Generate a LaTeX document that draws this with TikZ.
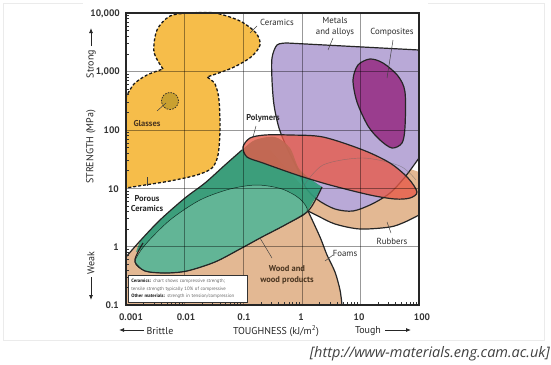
\documentclass[tikz,border=0pt]{standalone}
\usepackage{fontspec}
\setmainfont{PT Sans}
\newfontfamily\citefont{Open Sans}
\usetikzlibrary{arrows.meta}
\definecolor{cer}{HTML}{F6BD4A}
\definecolor{glass}{HTML}{C9A030}
\definecolor{lav}{HTML}{B9A9D7}
\definecolor{comp}{HTML}{9A3D8E}
\definecolor{grnD}{HTML}{2E9C79}
\definecolor{grnL}{HTML}{62B596}
\definecolor{poly}{HTML}{E85A48}
\definecolor{tanc}{HTML}{E3B893}
\definecolor{ink}{HTML}{2B2B2B}
\definecolor{brownink}{HTML}{4A3520}
\begin{document}
\begin{tikzpicture}[x=1pt,y=-1pt,
  outl/.style={draw=black!85,line width=1.2pt},
  gridl/.style={draw=black,opacity=0.4,line width=0.6pt},
  tickl/.style={draw=black!80,line width=0.5pt},
  leader/.style={draw=black!75,line width=0.5pt},
  lbl/.style={font=\fontsize{8.8}{10.5}\selectfont,text=ink,inner sep=0pt,align=center},
  blbl/.style={font=\bfseries\fontsize{8.5}{10.5}\selectfont,text=brownink,inner sep=0pt,align=center},
  ytl/.style={font=\bfseries\fontsize{9.5}{10}\selectfont,text=black!80,inner sep=0pt,anchor=east},
  xtl/.style={font=\bfseries\fontsize{9.5}{10}\selectfont,text=black!80,inner sep=0pt},
  axt/.style={font=\fontsize{10}{11}\selectfont,text=black!85,inner sep=0pt},
  arr/.style={draw=black!85,line width=0.8pt,-{Latex[length=5pt,width=4pt]}}]
\useasboundingbox (0,0) rectangle (551,364);
% faint outer frame
\draw[black!8,line width=0.6pt] (3,3) -- (3,340) -- (544,340) -- (544,3) -- (428,3);
\draw[black!8,line width=0.6pt] (3,3) -- (83,3);
% tan region (wood, foams, rubbers)
\fill[tanc] plot[smooth] coordinates {(126,257) (140,241) (160,220) (185,198) (205,183) (225,165) (242,150)}
  -- (270,150) -- (303,187)
  -- plot[smooth] coordinates {(303,187) (323,165) (363,158) (400,166) (419,172)}
  -- (419,215)
  -- plot[smooth] coordinates {(419,215) (405,222) (390,227) (360,229) (335,224) (318,216) (308,211)}
  -- plot[smooth] coordinates {(308,211) (320,237) (327,255) (335,272) (340,290) (342,305)}
  -- (126,305) -- cycle;
% metals
\filldraw[fill=lav,outl] plot[smooth] coordinates {(419,158) (405,177) (390,193) (372,204) (353,211) (335,209) (318,200) (306,188) (297,168) (287,148) (279,128) (274,105) (272,80) (272,58) (277,45) (287,43)} -- (419,50) -- cycle;
% composites
\filldraw[fill=comp,outl] plot[smooth cycle] coordinates {(370,59) (383,63) (398,76) (405,92) (405,127) (402,143) (392,148) (380,140) (368,126) (357,102) (353,80) (358,65)};
% green upper
\fill[grnD,opacity=0.92] plot[smooth] coordinates {(140,241) (160,220) (185,198) (205,183) (225,165) (242,150) (255,140) (275,137) (290,148) (300,170) (322,187)} -- (307,212) -- (250,222) -- (180,235) -- (136,252) -- cycle;
% green ellipse
\filldraw[fill=grnL,draw=black!70!grnD,line width=0.5pt] plot[smooth cycle] coordinates {(135,262) (145,271) (165,273) (187,271) (215,262) (240,249) (262,237) (285,225) (307,212) (300,199) (282,189) (257,185) (230,189) (200,200) (170,220) (145,245)};
% thick outlines
\draw[outl] plot[smooth] coordinates {(126,257) (140,241) (160,220) (185,198) (205,183) (225,165) (242,150)};
\draw[outl] plot[smooth] coordinates {(322,187) (316,199) (307,212) (285,225) (262,237) (240,249) (215,262) (187,271) (165,273) (145,271) (135,262) (138,252) (143,243)};
\draw[outl] plot[smooth] coordinates {(419,215) (405,222) (390,227) (360,229) (335,224) (318,216) (308,211)};
\draw[outl] plot[smooth] coordinates {(308,211) (320,237) (327,255) (335,272) (340,290) (342,305)};
% polymers
\fill[poly,opacity=0.78] plot[smooth cycle] coordinates {(243,147) (250,138) (265,135) (290,135) (323,137) (363,150) (390,163) (408,178) (417,192) (410,198) (395,199) (370,195) (330,185) (297,175) (263,163) (247,157)};
\draw[black!60,line width=0.4pt,opacity=0.6] plot[smooth] coordinates {(303,187) (323,165) (363,158) (400,166) (416,180)};
\draw[outl] plot[smooth cycle] coordinates {(243,147) (250,138) (265,135) (290,135) (323,137) (363,150) (390,163) (408,178) (417,192) (410,198) (395,199) (370,195) (330,185) (297,175) (263,163) (247,157)};
% ceramics
\def\cerpath{plot[smooth] coordinates {(163,69) (154,52) (157,30) (170,16) (190,13) (215,13) (240,21) (256,33) (260,45) (251,57) (232,68) (207,77)} -- plot[smooth] coordinates {(207,77) (215,84) (219,100) (220,130) (218,155) (212,168) (197,175) (170,181) (145,185) (126,188)} -- (126,97) -- plot[smooth] coordinates {(126,97) (134,84) (147,75) (163,69)} -- cycle}
\fill[cer] \cerpath;
\fill[glass] (170,101) circle[radius=8.5pt];
% grid
\foreach \gx in {184.6,243.2,301.8,360.4} \draw[gridl] (\gx,13) -- (\gx,305);
\foreach \gy in {71.4,129.8,188.2,246.6} \draw[gridl] (126,\gy) -- (419,\gy);
% ceramics dashed outlines
\draw[black!90,line width=1.3pt,dash pattern=on 3pt off 2pt] \cerpath;
\draw[black!85,line width=0.7pt,dash pattern=on 1.6pt off 1.2pt] (170,101) circle[radius=8.5pt];
% ticks
\foreach \d in {0,...,4}{
  \foreach \k in {2,...,9}{
    \pgfmathsetmacro\tx{126+58.6*(\d+ln(\k)/ln(10))}
    \pgfmathsetmacro\ty{305-58.4*(\d+ln(\k)/ln(10))}
    \draw[tickl] (\tx,305) -- (\tx,302);
    \draw[tickl] (126,\ty) -- (129,\ty);
  }
}
% frame
\draw[black!85,line width=1.1pt] (126,13) rectangle (419,305);
% note box
\node[draw=black!80,line width=0.7pt,fill=white,anchor=north west,minimum width=119pt,minimum height=27pt,inner sep=2.5pt,text width=113pt,align=left,font=\fontsize{4.8}{7.2}\selectfont,text=black!60] (note) at (128,275)
 {{\bfseries\color{black!90}Ceramics:} chart shows compressive strength;\\tensile strength typically 10\% of compressive\\{\bfseries\color{black!90}Other materials:} strength in tension/compression};
% axis tick labels
\node[ytl] (y4) at (120,14) {10,000};
\node[ytl] (y3) at (120,72) {1,000};
\node[ytl] (y2) at (120,130) {100};
\node[ytl] (y1) at (119,189) {10};
\node[ytl] (y0) at (119,247) {1};
\node[ytl] (ym) at (119,305) {0.1};
\node[xtl] (x0) at (131,317) {0.001};
\node[xtl] (x1) at (186,317) {0.01};
\node[xtl] (x2) at (244,317) {0.1};
\node[xtl] (x3) at (301,317) {1};
\node[xtl] (x4) at (359,317) {10};
\node[xtl] (x5) at (422,317) {100};
% axis titles
\node[axt] (xt) at (276,331) {TOUGHNESS (kJ/m\textsuperscript{2})};
\node[axt,rotate=90] (yt) at (91,147) {STRENGTH (MPa)};
\node[axt,rotate=90] (strong) at (91,64) {Strong};
\node[axt,rotate=90] (weak) at (91,263) {Weak};
\node[axt] (brittle) at (160,331) {Brittle};
\node[axt] (tough) at (368,331) {Tough};
\coordinate (sa1) at (91,46); \coordinate (sa2) at (91,28);
\coordinate (wa1) at (91,277); \coordinate (wa2) at (91,300);
\coordinate (ba1) at (144,330); \coordinate (ba2) at (119,330);
\coordinate (ta1) at (385,330); \coordinate (ta2) at (411,330);
\draw[arr] (sa1) -- (sa2);
\draw[arr] (wa1) -- (wa2);
\draw[arr] (ba1) -- (ba2);
\draw[arr] (ta1) -- (ta2);
% material labels
\node[lbl] (lcer) at (277,22) {Ceramics};
\node[blbl] (lgla) at (147,124) {Glasses};
\node[blbl,text=ink] (lpor) at (147,203.5) {Porous\\Ceramics};
\node[blbl,text=ink] (lpol) at (263,118) {Polymers};
\node[lbl] (lmet) at (335,27) {Metals\\and alloys};
\node[lbl] (lcom) at (392,32) {Composites};
\node[blbl] (lwood) at (287,275) {Wood and\\wood products};
\node[lbl] (lfoam) at (345,253) {Foams};
\node[lbl] (lrub) at (392,241) {Rubbers};
% leaders
\coordinate (c1a) at (257,26); \coordinate (c1b) at (250,33);
\coordinate (c2a) at (157,111); \coordinate (c2b) at (166,103);
\coordinate (c3a) at (147,186); \coordinate (c3b) at (147,177);
\coordinate (c4a) at (256,126); \coordinate (c4b) at (253,137);
\coordinate (c5a) at (333,38); \coordinate (c5b) at (328,50);
\coordinate (c6a) at (393,40); \coordinate (c6b) at (387,78);
\coordinate (c7a) at (272,258); \coordinate (c7b) at (260,238);
\coordinate (c8a) at (333,255); \coordinate (c8b) at (325,261);
\coordinate (c9a) at (391,233); \coordinate (c9b) at (387,222);
\foreach \a/\b in {c1a/c1b,c2a/c2b,c3a/c3b,c4a/c4b,c5a/c5b,c6a/c6b,c7a/c7b,c8a/c8b,c9a/c9b}
  \draw[leader] (\a) -- (\b);
% citation
\node[font=\citefont\itshape\fontsize{14.5}{16}\selectfont,text=black!75,anchor=base east,inner sep=0pt] (cite) at (550,357) {[http://www-materials.eng.cam.ac.uk]};
\end{tikzpicture}
\end{document}
